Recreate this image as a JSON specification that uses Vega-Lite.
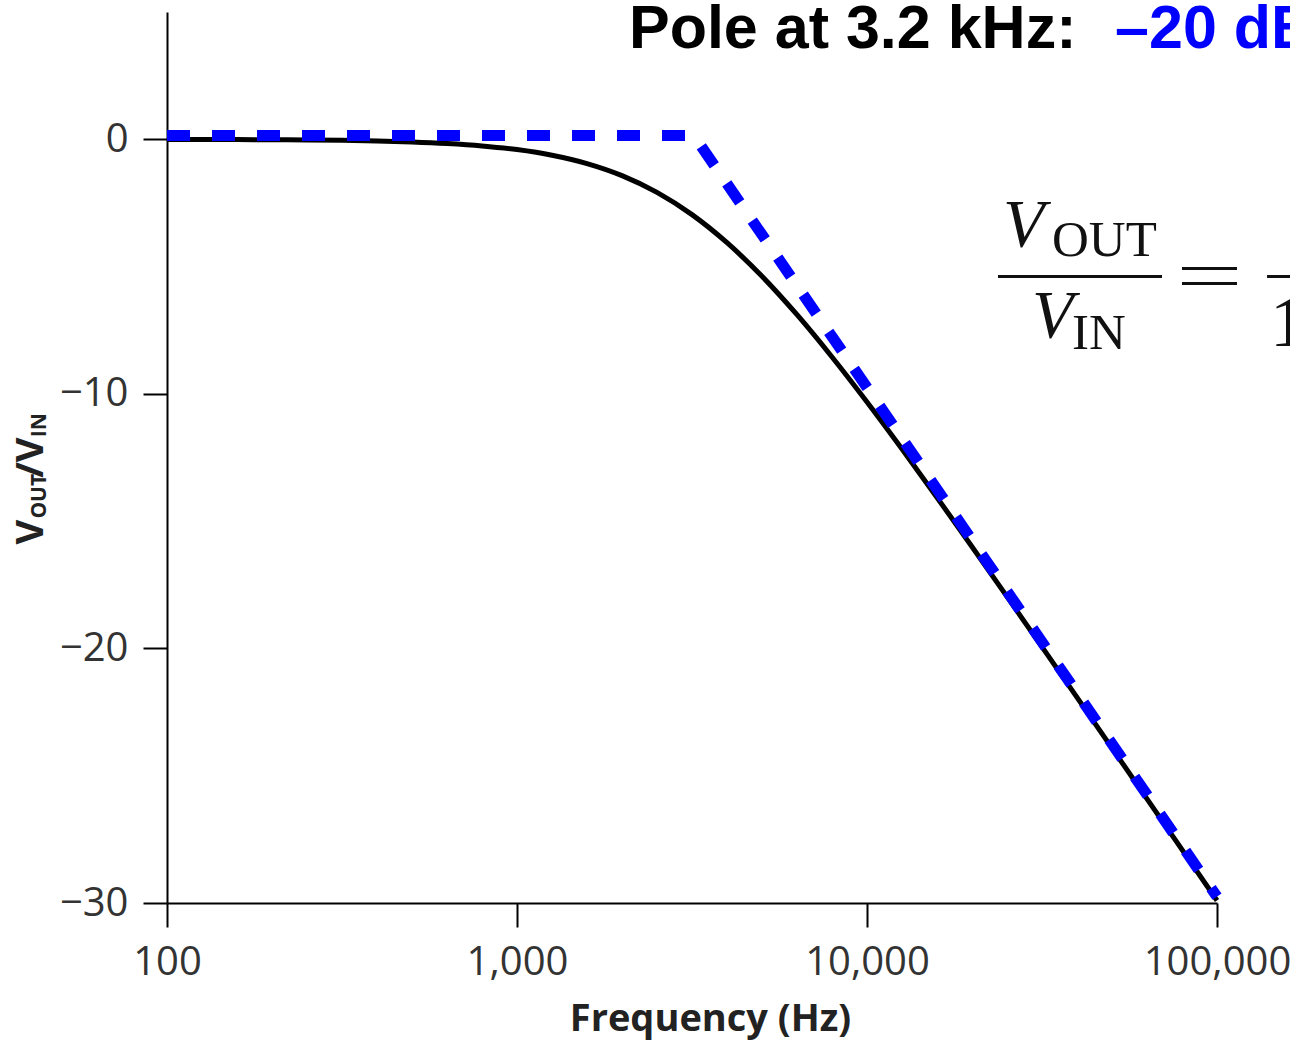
{
  "$schema": "https://vega.github.io/schema/vega-lite/v6.json",
  "width": 1050,
  "height": 891,
  "autosize": {"type": "none"},
  "padding": {"left": 167, "top": 12, "right": 73, "bottom": 141},
  "background": "white",
  "config": {"view": {"stroke": null}, "font": "Open Sans"},
  "datasets": {
    "curve": [
      {"f": 100, "db": -0.004}, {"f": 125.9, "db": -0.007}, {"f": 158.5, "db": -0.011},
      {"f": 199.5, "db": -0.017}, {"f": 251.2, "db": -0.027}, {"f": 316.2, "db": -0.042},
      {"f": 398.1, "db": -0.067}, {"f": 501.2, "db": -0.105}, {"f": 631, "db": -0.166},
      {"f": 794.3, "db": -0.26}, {"f": 1000, "db": -0.405}, {"f": 1258.9, "db": -0.625},
      {"f": 1584.9, "db": -0.953}, {"f": 1995.3, "db": -1.426}, {"f": 2511.9, "db": -2.085},
      {"f": 3162.3, "db": -2.959}, {"f": 3981.1, "db": -4.062}, {"f": 5011.9, "db": -5.382},
      {"f": 6309.6, "db": -6.891}, {"f": 7943.3, "db": -8.55}, {"f": 10000, "db": -10.32},
      {"f": 12589, "db": -12.169}, {"f": 15849, "db": -14.07}, {"f": 19953, "db": -16.007},
      {"f": 25119, "db": -17.967}, {"f": 31623, "db": -19.941}, {"f": 39811, "db": -21.925},
      {"f": 50119, "db": -23.915}, {"f": 63096, "db": -25.908}, {"f": 79433, "db": -27.904},
      {"f": 100000, "db": -29.901}
    ],
    "asym": [
      {"f": 100, "db": 0.15}, {"f": 3200, "db": 0.15}, {"f": 100000, "db": -29.75}
    ]
  },
  "layer": [
    {
      "data": {"name": "curve"},
      "mark": {"type": "line", "color": "black", "strokeWidth": 5, "interpolate": "monotone"},
      "encoding": {
        "x": {
          "field": "f", "type": "quantitative",
          "scale": {"type": "log", "domain": [100, 100000]},
          "axis": {
            "title": "Frequency (Hz)", "values": [100, 1000, 10000, 100000], "format": ",",
            "grid": false, "tickSize": 24, "tickWidth": 2, "tickColor": "black",
            "domainColor": "black", "domainWidth": 2,
            "labelFont": "Open Sans", "labelFontSize": 40, "labelColor": "#333333", "labelPadding": 15,
            "labelFlush": false, "labelOverlap": false,
            "titleFont": "Open Sans", "titleFontSize": 38, "titleFontWeight": "bold", "titleColor": "#222222",
            "titleX": 543, "titleY": 127, "titleBaseline": "alphabetic", "titleAlign": "center"
          }
        },
        "y": {
          "field": "db", "type": "quantitative",
          "scale": {"domain": [-30, 5], "nice": false, "zero": false},
          "axis": {
            "title": null, "values": [0, -10, -20, -30], "grid": false,
            "tickSize": 24, "tickWidth": 2, "tickColor": "black",
            "domainColor": "black", "domainWidth": 2,
            "labelFont": "Open Sans", "labelFontSize": 40, "labelColor": "#333333", "labelPadding": 15,
            "labelFlush": false, "labelOverlap": false
          }
        }
      }
    },
    {
      "data": {"name": "asym"},
      "mark": {"type": "line", "color": "#0000ff", "strokeWidth": 11, "strokeDash": [23, 22], "strokeCap": "butt"},
      "encoding": {
        "x": {"field": "f", "type": "quantitative"},
        "y": {"field": "db", "type": "quantitative"}
      }
    },
    {
      "data": {"values": [{}]},
      "mark": {"type": "text", "text": "Pole at 3.2 kHz: ", "font": "Liberation Sans", "fontWeight": "bold", "fontSize": 61, "align": "left", "baseline": "alphabetic", "color": "black"},
      "encoding": {"x": {"datum": 2089, "type": "quantitative"}, "y": {"datum": 3.58, "type": "quantitative"}}
    },
    {
      "data": {"values": [{}]},
      "mark": {"type": "text", "text": "–20 dB/decade", "font": "Liberation Sans", "fontWeight": "bold", "fontSize": 61, "align": "left", "baseline": "alphabetic", "color": "#0000ff"},
      "encoding": {"x": {"datum": 51130, "type": "quantitative"}, "y": {"datum": 3.58, "type": "quantitative"}}
    },
    {
      "data": {"values": [{}]},
      "mark": {"type": "text", "text": "V", "font": "Open Sans", "fontWeight": "bold", "fontSize": 38, "angle": 270, "align": "left", "baseline": "alphabetic", "color": "#222222"},
      "encoding": {"x": {"datum": 44.23, "type": "quantitative"}, "y": {"datum": -15.92, "type": "quantitative"}}
    },
    {
      "data": {"values": [{}]},
      "mark": {"type": "text", "text": "OUT", "font": "Open Sans", "fontWeight": "bold", "fontSize": 21, "angle": 270, "align": "left", "baseline": "alphabetic", "color": "#222222"},
      "encoding": {"x": {"datum": 45.1, "type": "quantitative"}, "y": {"datum": -14.9, "type": "quantitative"}}
    },
    {
      "data": {"values": [{}]},
      "mark": {"type": "text", "text": "/V", "font": "Open Sans", "fontWeight": "bold", "fontSize": 38, "angle": 270, "align": "left", "baseline": "alphabetic", "color": "#222222"},
      "encoding": {"x": {"datum": 44.23, "type": "quantitative"}, "y": {"datum": -13.3, "type": "quantitative"}}
    },
    {
      "data": {"values": [{}]},
      "mark": {"type": "text", "text": "IN", "font": "Open Sans", "fontWeight": "bold", "fontSize": 21, "angle": 270, "align": "left", "baseline": "alphabetic", "color": "#222222"},
      "encoding": {"x": {"datum": 45.1, "type": "quantitative"}, "y": {"datum": -11.7, "type": "quantitative"}}
    },
    {
      "data": {"values": [{}]},
      "mark": {"type": "text", "text": "V", "font": "Liberation Serif", "fontStyle": "italic", "fontSize": 68, "align": "left", "baseline": "alphabetic", "color": "#111111"},
      "encoding": {"x": {"datum": 24469, "type": "quantitative"}, "y": {"datum": -4.207, "type": "quantitative"}}
    },
    {
      "data": {"values": [{}]},
      "mark": {"type": "text", "text": "OUT", "font": "Liberation Serif", "fontSize": 51, "align": "left", "baseline": "alphabetic", "color": "#111111"},
      "encoding": {"x": {"datum": 33782, "type": "quantitative"}, "y": {"datum": -4.6, "type": "quantitative"}}
    },
    {
      "data": {"values": [{}]},
      "mark": {"type": "text", "text": "V", "font": "Liberation Serif", "fontStyle": "italic", "fontSize": 68, "align": "left", "baseline": "alphabetic", "color": "#111111"},
      "encoding": {"x": {"datum": 29610, "type": "quantitative"}, "y": {"datum": -7.785, "type": "quantitative"}}
    },
    {
      "data": {"values": [{}]},
      "mark": {"type": "text", "text": "IN", "font": "Liberation Serif", "fontSize": 51, "align": "left", "baseline": "alphabetic", "color": "#111111"},
      "encoding": {"x": {"datum": 38530, "type": "quantitative"}, "y": {"datum": -8.257, "type": "quantitative"}}
    },
    {
      "data": {"values": [{}]},
      "mark": {"type": "text", "text": "1", "font": "Liberation Serif", "fontSize": 72, "align": "left", "baseline": "alphabetic", "color": "#111111"},
      "encoding": {"x": {"datum": 141700, "type": "quantitative"}, "y": {"datum": -8.139, "type": "quantitative"}}
    },
    {
      "data": {"values": [{}]},
      "mark": {"type": "rule", "color": "#111111", "strokeWidth": 3},
      "encoding": {"x": {"datum": 23676, "type": "quantitative"}, "x2": {"datum": 69640}, "y": {"datum": -5.387, "type": "quantitative"}}
    },
    {
      "data": {"values": [{}]},
      "mark": {"type": "rule", "color": "#111111", "strokeWidth": 3},
      "encoding": {"x": {"datum": 139000, "type": "quantitative"}, "x2": {"datum": 172600}, "y": {"datum": -5.387, "type": "quantitative"}}
    },
    {
      "data": {"values": [{}]},
      "mark": {"type": "rule", "color": "#111111", "strokeWidth": 3},
      "encoding": {"x": {"datum": 79433, "type": "quantitative"}, "x2": {"datum": 114060}, "y": {"datum": -5.072, "type": "quantitative"}}
    },
    {
      "data": {"values": [{}]},
      "mark": {"type": "rule", "color": "#111111", "strokeWidth": 3},
      "encoding": {"x": {"datum": 79433, "type": "quantitative"}, "x2": {"datum": 114060}, "y": {"datum": -5.662, "type": "quantitative"}}
    }
  ]
}
